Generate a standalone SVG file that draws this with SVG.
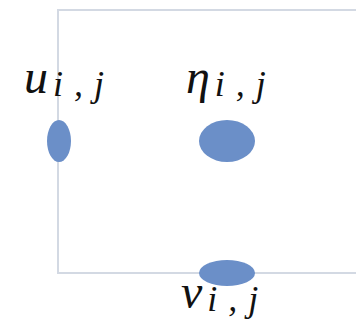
<svg xmlns="http://www.w3.org/2000/svg" width="356" height="333" viewBox="0 0 356 333">
<style>
.grid{fill:none;stroke:#d3d9e3;stroke-width:2}
.pt{fill:#6b8fc8}
.lbl{fill:#111;font-family:"Liberation Serif",serif;font-style:italic}
.main{font-size:48px}
.sub{font-size:36px;letter-spacing:11px}
</style>
<rect width="356" height="333" fill="#fff"/>
<g id="connectors">
<polyline class="grid" points="358,10 58,10 58,273 358,273"/>
</g>
<g id="u">
<ellipse class="pt" cx="59" cy="141" rx="12" ry="21"/>
<text class="lbl" x="24" y="93"><tspan class="main">u</tspan><tspan class="sub" dy="3" dx="5">i,j</tspan></text>
</g>
<g id="eta">
<ellipse class="pt" cx="227" cy="141" rx="28" ry="21"/>
<text class="lbl" x="186" y="93"><tspan class="main">η</tspan><tspan class="sub" dy="3" dx="5">i,j</tspan></text>
</g>
<g id="v">
<ellipse class="pt" cx="227" cy="273" rx="28" ry="13"/>
<text class="lbl" x="181" y="308"><tspan class="main">v</tspan><tspan class="sub" dy="3" dx="5">i,j</tspan></text>
</g>
</svg>
